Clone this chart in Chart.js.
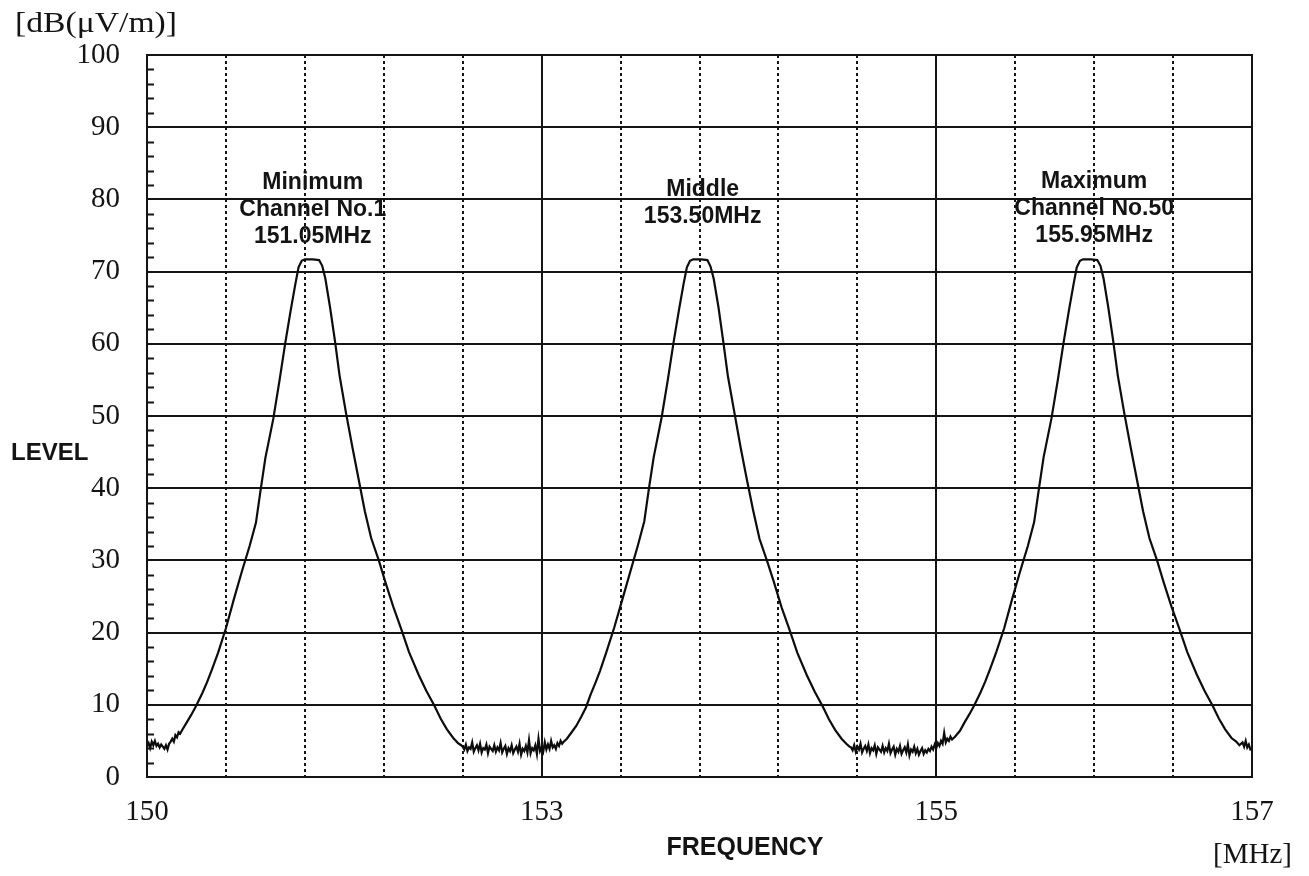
<!DOCTYPE html>
<html>
<head>
<meta charset="utf-8">
<script src="https://cdn.jsdelivr.net/npm/chart.js@4.4.1/dist/chart.umd.min.js"></script>
<style>
  html, body { margin: 0; padding: 0; background: #fff; }
  #wrap { width: 1309px; height: 876px; }
</style>
</head>
<body>
<div id="wrap"><canvas id="level-chart" width="1309" height="876"></canvas></div>
<script>
// sweep step of the receiver in the flat noise parts (MHz)
const sweepStep = 0.01;

// noise floor before the first carrier, from 150.00 MHz
const leftFloorStart = 150.0;
const leftFloor = [4.3, 4.7, 4.0, 4.9, 4.4, 5.0, 4.3, 4.6, 4.1, 4.5, 4.2, 3.9, 4.4, 3.8, 4.6, 4.9, 5.3, 4.9, 5.8, 5.5, 6.2, 6.0];

// [MHz, dB(uV/m)]
const minChannelPeak = [
  [150.22, 6.4], [150.25, 7.5], [150.28, 8.6], [150.31, 9.8], [150.35, 11.6], [150.38, 13.1],
  [150.41, 14.8], [150.45, 17.2], [150.50, 20.6], [150.55, 24.6], [150.60, 28.4], [150.65, 32.0],
  [150.69, 35.2], [150.72, 39.8], [150.75, 44.2], [150.80, 49.6], [150.84, 55.0], [150.875, 60.0],
  [150.91, 64.6], [150.94, 68.3], [150.96, 70.6], [150.98, 71.5], [151.00, 71.7], [151.05, 71.7],
  [151.09, 71.6], [151.11, 70.8], [151.13, 69.0], [151.16, 65.0], [151.19, 60.5], [151.22, 55.6],
  [151.26, 50.5], [151.30, 45.8], [151.34, 41.3], [151.38, 36.8], [151.42, 33.1], [151.47, 29.9],
  [151.51, 27.0], [151.56, 23.6], [151.61, 20.5], [151.66, 17.3], [151.72, 14.2], [151.77, 11.9],
  [151.82, 9.9], [151.86, 8.1], [151.90, 6.6], [151.94, 5.4], [151.97, 4.7], [151.99, 4.4],
];

const midFloorStart = 152.0;
const midFloor = [
  4.2, 3.8, 4.5, 3.6, 4.1, 3.9, 4.8, 3.5, 4.0, 4.4,
  3.7, 4.6, 3.4, 4.0, 3.8, 4.5, 3.3, 4.2, 3.9, 3.6,
  4.4, 3.5, 4.1, 3.7, 4.7, 3.4, 3.9, 4.3, 3.2, 4.0,
  3.6, 4.4, 3.3, 3.8, 4.2, 3.5, 4.6, 3.1, 3.9, 3.6,
  4.3, 3.4, 5.1, 3.3, 4.0, 3.7, 4.4, 3.2, 5.3, 3.6,
  4.1, 3.5, 4.8, 3.8, 4.5, 3.9, 5.0, 4.1, 4.4, 3.9,
  4.7, 4.3, 5.0, 4.6, 4.9,
];

const middleChannelPeak = [
  [152.66, 5.3], [152.69, 6.2], [152.72, 7.1], [152.75, 8.3], [152.78, 9.6], [152.81, 11.4],
  [152.84, 13.0], [152.87, 14.7], [152.91, 17.3], [152.96, 20.7], [153.01, 24.5], [153.06, 28.3],
  [153.11, 32.1], [153.15, 35.4], [153.18, 40.0], [153.21, 44.3], [153.26, 49.8], [153.30, 55.1],
  [153.335, 60.1], [153.37, 64.7], [153.40, 68.4], [153.42, 70.6], [153.44, 71.5], [153.46, 71.7],
  [153.51, 71.7], [153.55, 71.6], [153.57, 70.7], [153.59, 69.0], [153.62, 65.1], [153.65, 60.4],
  [153.68, 55.5], [153.72, 50.6], [153.76, 45.7], [153.80, 41.2], [153.84, 36.9], [153.88, 33.0],
  [153.93, 29.8], [153.97, 27.1], [154.02, 23.5], [154.07, 20.4], [154.12, 17.2], [154.18, 14.1],
  [154.23, 11.8], [154.28, 9.8], [154.32, 8.0], [154.36, 6.5], [154.40, 5.3], [154.43, 4.6],
  [154.45, 4.2],
];

const highFloorStart = 154.46;
const highFloor = [
  4.1, 3.7, 4.4, 3.5, 4.2, 3.8, 4.6, 3.4, 3.9, 4.3,
  3.6, 4.5, 3.3, 4.0, 3.7, 4.4, 3.2, 4.1, 3.8, 3.5,
  4.3, 3.4, 4.0, 3.6, 4.6, 3.3, 3.8, 4.2, 3.1, 3.9,
  3.5, 4.3, 3.2, 3.7, 4.1, 3.4, 4.5, 3.0, 3.8, 3.5,
  4.2, 3.3, 3.9, 3.1, 3.6, 4.0, 3.2, 3.7, 3.4, 3.9,
  3.6, 4.2, 3.8, 4.5, 4.0, 4.7, 4.3, 5.0, 4.6, 6.1,
  4.8, 5.3, 5.0, 5.6, 5.2,
];

const maxChannelPeak = [
  [155.12, 5.6], [155.15, 6.4], [155.18, 7.6], [155.21, 8.7], [155.24, 9.9], [155.28, 11.7],
  [155.31, 13.2], [155.34, 14.9], [155.38, 17.3], [155.43, 20.6], [155.48, 24.6], [155.53, 28.4],
  [155.58, 32.0], [155.62, 35.3], [155.65, 39.9], [155.68, 44.3], [155.73, 49.7], [155.77, 55.0],
  [155.805, 60.0], [155.84, 64.6], [155.87, 68.3], [155.89, 70.6], [155.91, 71.5], [155.93, 71.7],
  [155.98, 71.7], [156.02, 71.6], [156.04, 70.8], [156.06, 69.0], [156.09, 65.0], [156.12, 60.5],
  [156.15, 55.6], [156.19, 50.5], [156.23, 45.8], [156.27, 41.3], [156.31, 36.8], [156.35, 33.1],
  [156.40, 29.9], [156.44, 27.0], [156.49, 23.6], [156.54, 20.5], [156.59, 17.3], [156.65, 14.2],
  [156.70, 11.9], [156.75, 9.9], [156.79, 8.1], [156.83, 6.6], [156.87, 5.4], [156.90, 4.9],
  [156.92, 4.4], [156.94, 4.8], [156.95, 4.2], [156.96, 5.0], [156.97, 4.1], [156.98, 4.5],
  [156.99, 3.8], [157.00, 3.9],
];

// axis ticks
const xTickValues = [150, 152.5, 155, 157];
const xTickLabels = ['150', '153', '155', '157'];
const xSolidLines = [152.5, 155];
const yMinorStep = 2;

// text over each carrier
const peakLabels = [
  { lines: ['Minimum', 'Channel No.1', '151.05MHz'], freq: 151.05, level: 82.3 },
  { lines: ['Middle', '153.50MHz'], freq: 153.52, level: 81.3 },
  { lines: ['Maximum', 'Channel No.50', '155.95MHz'], freq: 156.0, level: 82.4 },
];

const INK = '#141414';
const SERIF = "'Liberation Serif', 'Times New Roman', serif";
const SANS = "'Liberation Sans', Arial, sans-serif";

function floorPoints(start, levels) {
  return levels.map((v, i) => ({ x: +(start + i * sweepStep).toFixed(2), y: v }));
}

function peakPoints(pairs) {
  return pairs.map(([x, y]) => ({ x: x, y: y }));
}

function buildTrace() {
  return [
    ...floorPoints(leftFloorStart, leftFloor),
    ...peakPoints(minChannelPeak),
    ...floorPoints(midFloorStart, midFloor),
    ...peakPoints(middleChannelPeak),
    ...floorPoints(highFloorStart, highFloor),
    ...peakPoints(maxChannelPeak),
  ];
}

function isSolidX(value) {
  return xSolidLines.some((v) => Math.abs(v - value) < 1e-6);
}

function createChartScales() {
  const xDash = (c) => (c.tick && !isSolidX(c.tick.value) ? [3, 3] : []);
  return {
    x: {
      type: 'linear',
      min: 150,
      max: 157,
      position: 'bottom',
      afterFit(scale) {
        scale.height = 99;
      },
      ticks: {
        stepSize: 0.5,
        autoSkip: false,
        maxRotation: 0,
        padding: 18,
        color: INK,
        font: { family: SERIF, size: 29 },
        callback(value) {
          const i = xTickValues.findIndex((v) => Math.abs(v - value) < 1e-6);
          return i === -1 ? '' : xTickLabels[i];
        },
      },
      grid: {
        color: INK,
        lineWidth: 2,
        drawTicks: false,
        borderDash: xDash,
      },
      border: { display: false, dash: xDash },
    },
    y: {
      type: 'linear',
      min: 0,
      max: 100,
      position: 'left',
      afterFit(scale) {
        scale.width = 147;
      },
      ticks: {
        stepSize: 10,
        padding: 27,
        color: INK,
        font: { family: SERIF, size: 29 },
      },
      grid: {
        color: INK,
        lineWidth: 2,
        drawTicks: false,
      },
      border: { display: false },
    },
  };
}

function createChartData(trace) {
  return {
    datasets: [
      {
        label: 'LEVEL',
        data: trace,
        borderColor: '#0d0d0d',
        borderWidth: 2.2,
        pointRadius: 0,
        tension: 0,
        fill: false,
      },
    ],
  };
}

// frame, minor ticks on the level axis and all the texts
const frameAndTextPlugin = {
  id: 'frameAndText',
  afterDatasetsDraw(chart) {
    const { ctx, chartArea: a, scales } = chart;
    const y = scales.y;
    const x = scales.x;

    ctx.save();
    ctx.strokeStyle = INK;
    ctx.lineWidth = 2;
    ctx.strokeRect(a.left, a.top, a.right - a.left, a.bottom - a.top);

    ctx.lineWidth = 1.8;
    ctx.beginPath();
    for (let v = y.min; v <= y.max; v += yMinorStep) {
      if (v % 10 === 0) continue;
      const py = Math.round(y.getPixelForValue(v)) + 0.5;
      ctx.moveTo(a.left, py);
      ctx.lineTo(a.left + 7, py);
    }
    ctx.stroke();

    ctx.fillStyle = INK;
    ctx.textAlign = 'center';
    ctx.textBaseline = 'middle';
    ctx.font = `bold 23px ${SANS}`;
    peakLabels.forEach((label) => {
      const px = x.getPixelForValue(label.freq);
      const py = y.getPixelForValue(label.level);
      label.lines.forEach((line, i) => {
        ctx.fillText(line, px, py + i * 27);
      });
    });

    ctx.font = `bold 24px ${SANS}`;
    ctx.textAlign = 'left';
    ctx.fillText('LEVEL', 11, 453);

    ctx.font = `bold 25px ${SANS}`;
    ctx.textAlign = 'center';
    ctx.fillText('FREQUENCY', 745, 848);

    drawFittedText(ctx, '[dB(μV/m)]', 15, 24, 162, `30px ${SERIF}`);
    drawFittedText(ctx, '[MHz]', 1213, 855, 79, `29px ${SERIF}`);
    ctx.restore();
  },
};

function drawFittedText(ctx, text, left, middle, width, font) {
  ctx.save();
  ctx.font = font;
  ctx.textAlign = 'left';
  ctx.textBaseline = 'middle';
  const measured = ctx.measureText(text).width;
  ctx.translate(left, middle);
  ctx.scale(width / measured, 1);
  ctx.fillText(text, 0, 0);
  ctx.restore();
}

function createChartOptions(scales) {
  return {
    responsive: false,
    animation: false,
    plugins: {
      legend: { display: false },
      tooltip: { enabled: false },
    },
    layout: {
      padding: { top: 55, right: 57, left: 0, bottom: 0 },
    },
    scales: scales,
  };
}

const ctx = document.getElementById('level-chart').getContext('2d');
new Chart(ctx, {
  type: 'line',
  data: createChartData(buildTrace()),
  options: createChartOptions(createChartScales()),
  plugins: [frameAndTextPlugin],
});
</script>
</body>
</html>
